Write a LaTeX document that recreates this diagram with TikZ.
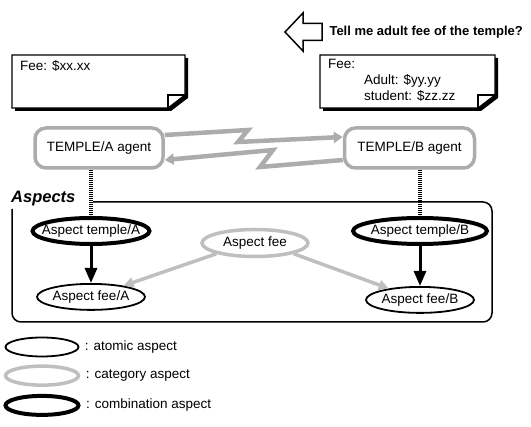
\documentclass[tikz,border=0pt]{standalone}
\usepackage{fontspec}
\setmainfont{Liberation Sans}
\usetikzlibrary{positioning}
\usetikzlibrary{shapes.geometric}
\usetikzlibrary{arrows.meta}
\newcommand{\aspname}[1]{\makebox[0pt]{#1}}
\newcommand{\notesheet}[1]{%
  \fill[black] ([shift={(3pt,-3pt)}]#1.north west) -- ([shift={(3pt,-3pt)}]#1.north east) -- ([shift={(3pt,10pt)}]#1.south east) -- ([shift={(-14pt,-3pt)}]#1.south east) -- ([shift={(3pt,-3pt)}]#1.south west) -- cycle;
  \draw[line width=1.2pt, fill=white] (#1.north west) -- (#1.north east) -- ([yshift=13pt]#1.south east) -- ([xshift=-17pt]#1.south east) -- (#1.south west) -- cycle;
  \draw[line width=1.2pt] ([xshift=-17pt]#1.south east) -- ([shift={(-17pt,13pt)}]#1.south east) -- ([yshift=13pt]#1.south east);
}
\tikzstyle{sheet} = [inner sep=0pt, outer sep=0pt, minimum width=173pt, minimum height=53pt]
\tikzstyle{agent} = [draw=gray!65, line width=3.5pt, rounded corners=11pt, minimum height=40pt, fill=white]
\tikzstyle{atomic} = [ellipse, draw=black, line width=1.8pt, inner sep=0pt, minimum height=26pt]
\tikzstyle{category} = [ellipse, draw=gray!50, line width=3.5pt, inner sep=0pt, minimum height=27pt]
\tikzstyle{combination} = [ellipse, draw=black, line width=4pt, inner sep=0pt, minimum height=26pt]
\tikzstyle{bolt} = [draw=gray!65, line width=4.5pt, line join=miter, -{Triangle[length=9pt,width=11pt]}]
\tikzstyle{rung} = [draw=black, line width=4pt, dash pattern=on 1.2pt off 0.8pt]
\tikzstyle{specarrow} = [draw=black, line width=3pt, -{Triangle[length=15pt,width=12pt]}]
\tikzstyle{catarrow} = [draw=gray!50, line width=3.5pt, -{Triangle[length=10pt,width=10pt]}]

\begin{document}
\begin{tikzpicture}[x=1pt, y=-1pt, font=\fontsize{13.5}{16}\selectfont]
\useasboundingbox (0,0) rectangle (531,427);

% Question
\draw[line width=1.5pt, line join=miter] (285,32) -- (303,13) -- (303,23.5) -- (322,23.5) -- (322,40.5) -- (303,40.5) -- (303,51) -- cycle;
\node[anchor=west, font=\fontsize{13}{15}\bfseries] (ask) at (326,32) {Tell me adult fee of the temple?};

% Notes
\node[sheet, anchor=north west] (nA) at (12,55) {};
\node[sheet, anchor=north west, minimum width=175pt] (nB) at (320,55) {};
\notesheet{nA}
\notesheet{nB}
\node[below right=5pt and 8pt of nA.north west, anchor=north west, inner sep=0pt] (feeA) {Fee: \$xx.xx};
\node[below right=4pt and 8pt of nB.north west, anchor=north west, inner sep=0pt, align=left] (feeB)
  {Fee:\\\hspace*{36pt}Adult: \$yy.yy\\\hspace*{36pt}student: \$zz.zz};

% Define nodes
\node[agent, minimum width=128pt]                      (aA) at (99,148) {TEMPLE/A agent};
\node[agent, minimum width=130pt, right=178pt of aA]   (aB) {TEMPLE/B agent};

\node[anchor=west, inner sep=0pt, font=\fontsize{16.5}{17}\bfseries\itshape] (asp) at (11,199) {Aspects};

\node[combination, minimum width=117pt]                (tA) at (91,231) {\aspname{Aspect temple/A}};
\node[combination, minimum width=134pt]                (tB) at (420,231) {\aspname{Aspect temple/B}};
\node[category, minimum width=106pt]                   (fee) at (255,243) {\aspname{Aspect fee}};
\node[atomic, minimum width=108pt, below=37pt of tA]   (fA) {\aspname{Aspect fee/A}};
\node[atomic, minimum width=108pt, below=40pt of tB]   (fB) {\aspname{Aspect fee/B}};

% Legend
\node[atomic, minimum width=73pt, minimum height=19pt]                    (lgA) at (42,347) {};
\node[category, minimum width=73pt, minimum height=19pt, below=7pt of lgA] (lgC) {};
\node[combination, minimum width=73pt, minimum height=19pt, below=7pt of lgC] (lgM) {};
\node[right=2pt of lgA] (lgAt) {: atomic aspect};
\node[right=2pt of lgC] (lgCt) {: category aspect};
\node[right=2pt of lgM] (lgMt) {: combination aspect};

% Aspects frame
\coordinate (boxtl) at (93,202);
\draw[line width=1.5pt, rounded corners=9pt] (boxtl) -- (492,202) -- (492,322) -- (12,322) -- (12,209);

% Edges
\coordinate (zigA) at (248,130);
\coordinate (zigB) at (238,142);
\coordinate (zagA) at (260,167);
\coordinate (zagB) at (273,150);
\draw[bolt] ([yshift=13pt]aA.east) -- (zigA) -- (zigB) -- ([yshift=11pt]aB.west);
\draw[bolt] ([yshift=-12pt]aB.west) -- (zagA) -- (zagB) -- ([yshift=-12pt]aA.east);
\draw[rung] (aA.south -| tA.north) -- (tA.north);
\draw[rung] (aB.south -| tB.north) -- (tB.north);
\draw[specarrow] (tA) -- (fA);
\draw[specarrow] (tB) -- (fB);
\draw[catarrow] (fee.south west) -- (fA);
\draw[catarrow] (fee.south east) -- (fB);
\end{tikzpicture}
\end{document}
